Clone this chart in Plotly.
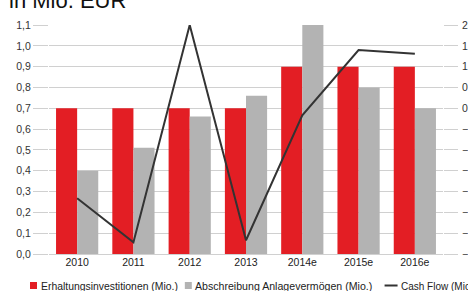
import plotly.graph_objects as go

categories = ["2010", "2011", "2012", "2013", "2014e", "2015e", "2016e"]
erhaltung = [0.7, 0.7, 0.7, 0.7, 0.9, 0.9, 0.9]
abschreibung = [0.4, 0.51, 0.66, 0.76, 1.1, 0.8, 0.7]
cashflow = [-2.16, -3.22, 2.0, -3.17, -0.17, 1.40, 1.31]
left_ticks = [round(i * 0.1, 1) for i in range(12)]
right_ticks = [round(-3.5 + i * 0.5, 1) for i in range(12)]

names = ["Erhaltungsinvestitionen (Mio.)", "Abschreibung Anlagevermögen (Mio.)", "Cash Flow (Mio.)"]
RED = "#e31e24"
GRAY = "#b3b3b3"
LINE = "#333333"
FONT = "Liberation Sans, Arial, sans-serif"

W, H = 468, 291
ML, MR, MT, MB = 49, 24.5, 25, 37
PW, PH = W - ML - MR, H - MT - MB


def px(x):
    return (x - ML) / PW


def py(y):
    return (H - MB - y) / PH


fig = go.Figure()
fig.add_trace(go.Bar(x=categories, y=erhaltung, name=names[0], marker=dict(color=RED, line=dict(width=0))))
fig.add_trace(go.Bar(x=categories, y=abschreibung, name=names[1], marker=dict(color=GRAY, line=dict(width=0))))
fig.add_trace(go.Scatter(x=categories, y=cashflow, name=names[2], mode="lines",
                         line=dict(color=LINE, width=2), yaxis="y2"))

shapes = [
    dict(type="rect", xref="paper", yref="paper", x0=px(30), x1=px(37), y0=py(289), y1=py(282),
         fillcolor=RED, line=dict(width=0)),
    dict(type="rect", xref="paper", yref="paper", x0=px(185), x1=px(192), y0=py(289), y1=py(282),
         fillcolor=GRAY, line=dict(width=0)),
    dict(type="line", xref="paper", yref="paper", x0=px(385), x1=px(398), y0=py(285.5), y1=py(285.5),
         line=dict(color=LINE, width=2)),
]
annotations = [
    dict(text=names[0], xref="paper", yref="paper", x=px(39), y=py(286), xanchor="left", yanchor="middle",
         showarrow=False, font=dict(size=10.4, color="#222", family=FONT)),
    dict(text=names[1], xref="paper", yref="paper", x=px(193.5), y=py(286), xanchor="left", yanchor="middle",
         showarrow=False, font=dict(size=10.6, color="#222", family=FONT)),
    dict(text=names[2], xref="paper", yref="paper", x=px(399.5), y=py(286), xanchor="left", yanchor="middle",
         showarrow=False, font=dict(size=10, color="#222", family=FONT)),
    dict(text="in Mio. EUR", xref="paper", yref="paper", x=px(7), y=py(1), xanchor="left", yanchor="middle",
         showarrow=False, font=dict(size=22, color="#111", family=FONT)),
]

fig.update_layout(
    width=W, height=H,
    margin=dict(l=ML, r=MR, t=MT, b=MB, pad=0, autoexpand=False),
    paper_bgcolor="white", plot_bgcolor="white",
    barmode="group", bargap=0.25, bargroupgap=0,
    showlegend=False,
    separators=",.",
    font=dict(family=FONT, size=10.5, color="#333"),
    shapes=shapes, annotations=annotations,
    xaxis=dict(type="category", range=[-0.5, 6.5], showgrid=False, zeroline=False, showline=False,
               automargin=False, ticks="", tickfont=dict(size=10.5, color="#222")),
    yaxis=dict(range=[0, 1.1], tickvals=left_ticks, tickformat=".1f", showgrid=True, gridcolor="#d0d0d0",
               gridwidth=1, zeroline=True, zerolinecolor="#d0d0d0", zerolinewidth=1, showline=False,
               automargin=False, ticks="outside", ticklen=15, tickcolor="#d0d0d0", tickwidth=1,
               tickfont=dict(size=10.5, color="#333")),
    yaxis2=dict(range=[-3.5, 2], tickvals=right_ticks, tickformat=".1f", overlaying="y", side="right",
                showgrid=False, zeroline=False, showline=False, automargin=False, ticks="outside", ticklen=14,
                ticklabelstandoff=2,
                tickcolor="#d0d0d0", tickwidth=1, tickfont=dict(size=10.5, color="#333")),
)

fig.write_html("out.html", config={"displayModeBar": False},
               post_script="document.body.style.margin='0';document.body.style.overflow='hidden';")
